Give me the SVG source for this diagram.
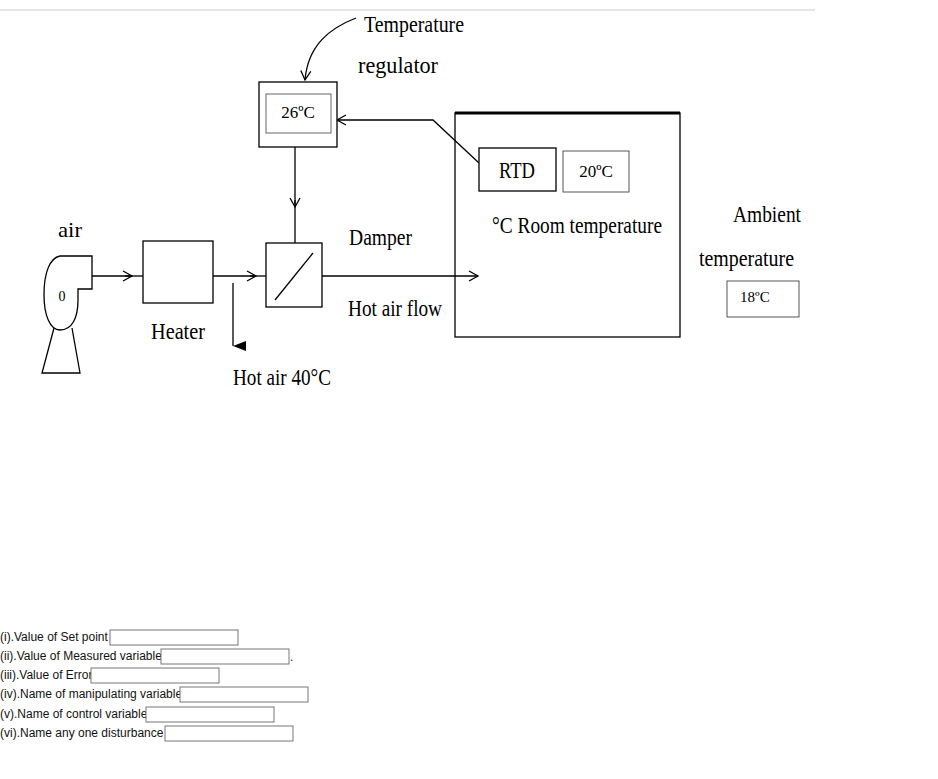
<svg xmlns="http://www.w3.org/2000/svg" width="938" height="779" viewBox="0 0 938 779">
<style>
.s{fill:none;stroke:#000;stroke-width:1.3}
.b{fill:#fff;stroke:#000;stroke-width:1.3}
.t{font-family:"Liberation Serif",serif;fill:#000}
.f{font-family:"Liberation Sans",Arial,sans-serif;font-size:12px;fill:#111}
.in{fill:#fff;stroke:#777;stroke-width:1}
</style>
<defs>
<marker id="o" markerWidth="12" markerHeight="12" refX="10" refY="6" orient="auto" markerUnits="userSpaceOnUse"><path d="M1,1 L10,6 L1,11" fill="none" stroke="#000" stroke-width="1.3"/></marker>
<marker id="f" markerWidth="10" markerHeight="14" refX="5" refY="13" orient="auto" markerUnits="userSpaceOnUse"><path d="M0,0 L5,13 L10,0 Z" fill="#000"/></marker>
</defs>
<line x1="0" y1="10" x2="815" y2="10" stroke="#ccc"/>
<g id="connectors">
<path class="s" d="M356,18 C330,28 308,45 305,80" marker-end="url(#o)" transform="translate(0,0)"/>
<line class="s" x1="295" y1="147" x2="295" y2="207" marker-end="url(#o)"/>
<line class="s" x1="295" y1="200" x2="295" y2="243"/>
<line class="s" x1="92" y1="276" x2="132" y2="276" marker-end="url(#o)"/>
<line class="s" x1="125" y1="276" x2="143" y2="276"/>
<line class="s" x1="213" y1="276" x2="256" y2="276" marker-end="url(#o)"/>
<line class="s" x1="250" y1="276" x2="266" y2="276"/>
<line class="s" x1="233" y1="283" x2="233" y2="346" marker-end="url(#f)"/>
<line class="s" x1="322" y1="276" x2="478" y2="276" marker-end="url(#o)"/>
<path class="s" d="M479,163 L433,120 L337,120" marker-end="url(#o)"/>
</g>
<g id="regulator">
<rect class="b" x="259" y="82" width="78" height="65"/>
<rect x="266" y="94" width="65" height="39" fill="#fff" stroke="#666"/>
<text class="t" x="298" y="118" font-size="17" text-anchor="middle">26ºC</text>
<text class="t" x="364" y="32" font-size="24" textLength="100" lengthAdjust="spacingAndGlyphs">Temperature</text>
<text class="t" x="358" y="73" font-size="24" textLength="80" lengthAdjust="spacingAndGlyphs">regulator</text>
</g>
<g id="fan">
<path class="s" d="M60,256 L92,256 L92,289 L78,289 L78,300 C78,318 72,330 60,330 C50,330 44,315 44,295 C44,272 50,258 60,256 Z"/>
<text class="t" x="62" y="301" font-size="14" text-anchor="middle">0</text>
<path class="s" d="M54,328 L42,373 L80,373 L72,328"/>
<text class="t" x="58" y="237" font-size="22" textLength="24" lengthAdjust="spacingAndGlyphs">air</text>
</g>
<g id="heater">
<rect class="b" x="143" y="241" width="70" height="62"/>
<text class="t" x="151" y="339" font-size="24" textLength="54" lengthAdjust="spacingAndGlyphs">Heater</text>
<text class="t" x="233" y="385" font-size="24" textLength="98" lengthAdjust="spacingAndGlyphs">Hot air 40°C</text>
</g>
<g id="damper">
<rect class="b" x="266" y="243" width="56" height="64"/>
<line class="s" x1="275" y1="300" x2="313" y2="253"/>
<text class="t" x="349" y="245" font-size="24" textLength="63" lengthAdjust="spacingAndGlyphs">Damper</text>
<text class="t" x="348" y="316" font-size="24" textLength="94" lengthAdjust="spacingAndGlyphs">Hot air flow</text>
</g>
<g id="room">
<rect class="s" x="455" y="113" width="225" height="224"/>
<line x1="455" y1="113" x2="680" y2="113" stroke="#000" stroke-width="3"/>
<rect class="b" x="479" y="148" width="77" height="43"/>
<text class="t" x="517" y="178" font-size="24" text-anchor="middle" textLength="36" lengthAdjust="spacingAndGlyphs">RTD</text>
<rect x="563" y="151" width="66" height="41" fill="#fff" stroke="#555"/>
<text class="t" x="596" y="177" font-size="17" text-anchor="middle">20ºC</text>
<text class="t" x="492" y="233" font-size="24" textLength="170" lengthAdjust="spacingAndGlyphs">°C Room temperature</text>
</g>
<g id="ambient">
<text class="t" x="733" y="222" font-size="24" textLength="68" lengthAdjust="spacingAndGlyphs">Ambient</text>
<text class="t" x="699" y="266" font-size="24" textLength="95" lengthAdjust="spacingAndGlyphs">temperature</text>
<rect x="727" y="281" width="72" height="36" fill="#fff" stroke="#555"/>
<text class="t" x="740" y="302" font-size="15">18ºC</text>
</g>
<g id="form">
<text class="f" x="0" y="641">(i).Value of Set point</text>
<rect class="in" x="110" y="630" width="128" height="15"/>
<text class="f" x="0" y="660">(ii).Value of Measured variable</text>
<rect class="in" x="161" y="649" width="128" height="15"/>
<text class="f" x="290" y="661">.</text>
<text class="f" x="0" y="679">(iii).Value of Error</text>
<rect class="in" x="91" y="668" width="128" height="15"/>
<text class="f" x="0" y="698">(iv).Name of manipulating variable</text>
<rect class="in" x="180" y="687" width="128" height="15"/>
<text class="f" x="0" y="718">(v).Name of control variable</text>
<rect class="in" x="146" y="707" width="128" height="15"/>
<text class="f" x="0" y="737">(vi).Name any one  disturbance</text>
<rect class="in" x="165" y="726" width="128" height="15"/>
</g>
</svg>
